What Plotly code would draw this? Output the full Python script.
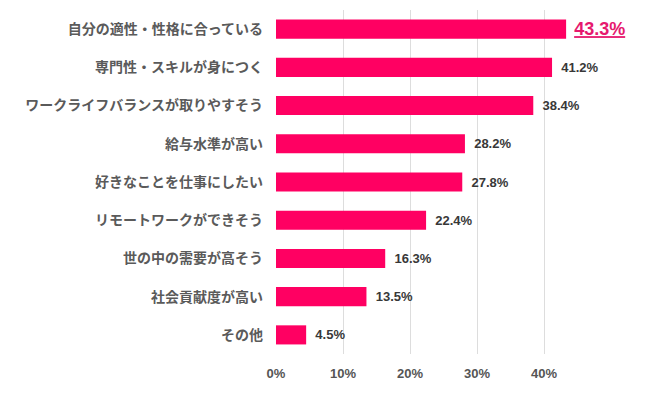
import plotly.graph_objects as go

categories = ["自分の適性・性格に合っている", "専門性・スキルが身につく", "ワークライフバランスが取りやすそう",
              "給与水準が高い", "好きなことを仕事にしたい", "リモートワークができそう",
              "世の中の需要が高そう", "社会貢献度が高い", "その他"]
values = [43.3, 41.2, 38.4, 28.2, 27.8, 22.4, 16.3, 13.5, 4.5]
tick_vals = [0, 10, 20, 30, 40]
tick_text = ["0%", "10%", "20%", "30%", "40%"]

texts = [("\u00a0<u>%.1f%%</u>" % v) if i == 0 else ("\u00a0\u2009%.1f%%" % v) for i, v in enumerate(values)]
tcolors = ["#E6196E" if i == 0 else "#383838" for i in range(len(values))]
tsizes = [18 if i == 0 else 13 for i in range(len(values))]

fig = go.Figure(go.Bar(
    x=values, y=categories, orientation="h",
    marker=dict(color="#FF0062", line=dict(width=0)),
    width=0.5,
    text=texts, textposition="outside", cliponaxis=False, constraintext="none",
    textfont=dict(color=tcolors, size=tsizes, family="Liberation Sans, Arial, sans-serif", weight="bold"),
    hoverinfo="skip",
))
fig.update_layout(
    width=650, height=398,
    margin=dict(l=268, r=47, t=2, b=52, autoexpand=False),
    paper_bgcolor="white", plot_bgcolor="white",
    showlegend=False,
    xaxis=dict(range=[0, 50], tickvals=tick_vals, ticktext=tick_text,
               showgrid=True, gridcolor="#DDDDDD", gridwidth=1, zeroline=False,
               showline=False, ticks="", ticklabelstandoff=10, automargin=False,
               tickfont=dict(size=13, color="#555555", family="Liberation Sans, Arial, sans-serif", weight="bold")),
    yaxis=dict(autorange="reversed", showgrid=False, showline=False, ticks="",
               ticklabelstandoff=12, automargin=False,
               tickfont=dict(size=14, color="#5A5A5A", family="Noto Sans CJK JP", weight="bold")),
    bargap=0.5,
)
fig.write_html("out.html")
